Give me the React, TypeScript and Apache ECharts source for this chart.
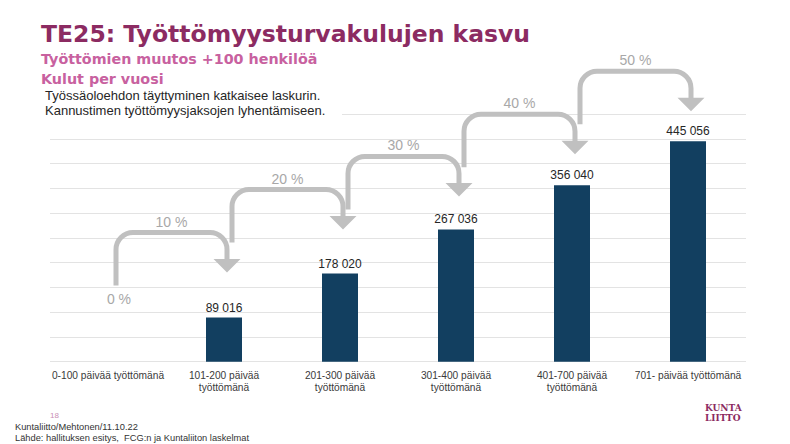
import React, { useEffect, useRef } from "react";
import * as echarts from "echarts";

// ---- data ----
const categories = [
  "0-100 päivää työttömänä",
  "101-200 päivää\ntyöttömänä",
  "201-300 päivää\ntyöttömänä",
  "301-400 päivää\ntyöttömänä",
  "401-700 päivää\ntyöttömänä",
  "701- päivää työttömänä",
];
const costs: (number | null)[] = [null, 89016, 178020, 267036, 356040, 445056];
const growthLabels = ["0 %", "10 %", "20 %", "30 %", "40 %", "50 %"];
const yMin = 0;
const yMax = 500000;
const yStep = 50000;

const titleText = "TE25: Työttömyysturvakulujen kasvu";
const subtitleLines = ["Työttömien muutos +100 henkilöä", "Kulut per vuosi"];
const noteLines = [
  "Työssäoloehdon täyttyminen katkaisee laskurin.",
  "Kannustimen työttömyysjaksojen lyhentämiseen.",
];
const pageNumber = "18";
const footerLines = [
  "Kuntaliitto/Mehtonen/11.10.22",
  "Lähde: hallituksen esitys,  FCG:n ja Kuntaliiton laskelmat",
];
const logoLines = ["KUNTA", "LIITTO"];

// ---- layout (pixels, not data) ----
const arrowLift = [85, 84, 73, 71, 70];

const fmt = (v: number) => String(v).replace(/\B(?=(\d{3})+(?!\d))/g, " ");

export default function App() {
  const ref = useRef<HTMLDivElement>(null);
  useEffect(() => {
    document.body.style.margin = "0";
    const chart = echarts.init(ref.current!, undefined, { renderer: "svg" });
    const arrows = costs.slice(1).map((v, k) => [k + 1, v]);
    const K = 0.5523;
    const option: any = {
      animation: false,
      grid: { left: 50, right: 44, top: 114, bottom: 82.3 },
      xAxis: {
        type: "category",
        data: categories,
        axisLine: { show: false },
        axisTick: { show: false },
        axisLabel: {
          interval: 0,
          margin: 8,
          fontSize: 10.2,
          lineHeight: 12,
          color: "#3a3a3a",
          fontFamily: "Liberation Sans",
        },
      },
      yAxis: {
        type: "value",
        min: yMin,
        max: yMax,
        interval: yStep,
        axisLabel: { show: false },
        axisLine: { show: false },
        axisTick: { show: false },
        splitLine: { lineStyle: { color: "#e3e3e3", width: 1 } },
      },
      series: [
        {
          type: "bar",
          data: costs,
          barWidth: 36,
          itemStyle: { color: "#123f60" },
          label: {
            show: true,
            position: "top",
            distance: 4,
            fontSize: 12,
            color: "#262626",
            fontFamily: "Liberation Sans",
            formatter: (p: any) => fmt(p.value),
          },
        },
        {
          type: "custom",
          coordinateSystem: "cartesian2d",
          clip: false,
          data: arrows,
          z: 5,
          renderItem: (params: any, api: any) => {
            const k = params.dataIndex;
            const from = k;
            const to = k + 1;
            const x0 = api.coord([from, 0])[0] + 8;
            const x1 = api.coord([to, 0])[0] + 3;
            const top = api.coord([to, api.value(1)])[1];
            const h = top - arrowLift[k];
            const tip = h + 40;
            const start = h + 53;
            const r = 17;
            const headH = 13.5;
            const headW = 13.5;
            const d =
              `M${x0} ${start} L${x0} ${h + r} ` +
              `C${x0} ${h + r - K * r} ${x0 + r - K * r} ${h} ${x0 + r} ${h} ` +
              `L${x1 - r} ${h} ` +
              `C${x1 - r + K * r} ${h} ${x1} ${h + r - K * r} ${x1} ${h + r} ` +
              `L${x1} ${tip - headH + 1}`;
            const children: any[] = [
              {
                type: "path",
                shape: { pathData: d },
                style: { fill: "none", stroke: "#c0c0c0", lineWidth: 5 },
              },
              {
                type: "polygon",
                shape: {
                  points: [
                    [x1 - headW, tip - headH],
                    [x1 + headW, tip - headH],
                    [x1, tip],
                  ],
                },
                style: { fill: "#c0c0c0" },
              },
              {
                type: "text",
                x: (x0 + x1) / 2,
                y: h - 11,
                style: {
                  text: growthLabels[to],
                  fill: "#a8a8a8",
                  fontSize: 14,
                  fontFamily: "Liberation Sans",
                  align: "center",
                  verticalAlign: "middle",
                },
              },
            ];
            if (k === 0) {
              children.push({
                type: "text",
                x: x0 + 3,
                y: start + 13,
                style: {
                  text: growthLabels[0],
                  fill: "#a8a8a8",
                  fontSize: 14,
                  fontFamily: "Liberation Sans",
                  align: "center",
                  verticalAlign: "middle",
                },
              });
            }
            return { type: "group", children };
          },
        },
      ],
      graphic: [
        {
          type: "rect",
          z: 50,
          shape: { x: 36, y: 86, width: 306, height: 34 },
          style: { fill: "#ffffff" },
        },
        {
          type: "text",
          z: 60,
          x: 41,
          y: 34,
          style: {
            text: titleText,
            fill: "#8c2b62",
            fontSize: 23.5,
            fontWeight: "bold",
            fontFamily: "DejaVu Sans",
            verticalAlign: "middle",
          },
        },
        ...subtitleLines.map((t, i) => ({
          type: "text",
          z: 60,
          x: 41,
          y: 59 + i * 19.5,
          style: {
            text: t,
            fill: "#c8619f",
            fontSize: 14.3,
            fontWeight: "bold",
            fontFamily: "DejaVu Sans",
            verticalAlign: "middle",
          },
        })),
        ...noteLines.map((t, i) => ({
          type: "text",
          z: 60,
          x: 45,
          y: 95 + i * 15,
          style: {
            text: t,
            fill: "#262626",
            fontSize: 13,
            fontFamily: "Liberation Sans",
            verticalAlign: "middle",
          },
        })),
        {
          type: "text",
          z: 60,
          x: 50,
          y: 415.5,
          style: {
            text: pageNumber,
            fill: "#c98fb5",
            fontSize: 8,
            fontFamily: "Liberation Sans",
            verticalAlign: "middle",
          },
        },
        ...footerLines.map((t, i) => ({
          type: "text",
          z: 60,
          x: 15,
          y: 427 + i * 10.5,
          style: {
            text: t,
            fill: "#333333",
            fontSize: 9.3,
            fontFamily: "Liberation Sans",
            verticalAlign: "middle",
          },
        })),
        ...logoLines.map((t, i) => ({
          type: "text",
          z: 60,
          x: 705,
          y: 408 + i * 10,
          style: {
            text: t,
            fill: "#8c2b62",
            fontSize: 9,
            fontWeight: "bold",
            fontFamily: "DejaVu Serif",
            verticalAlign: "middle",
          },
        })),
      ],
    };
    chart.setOption(option);
    return () => chart.dispose();
  }, []);
  return <div ref={ref} style={{ width: 790, height: 444 }} />;
}
